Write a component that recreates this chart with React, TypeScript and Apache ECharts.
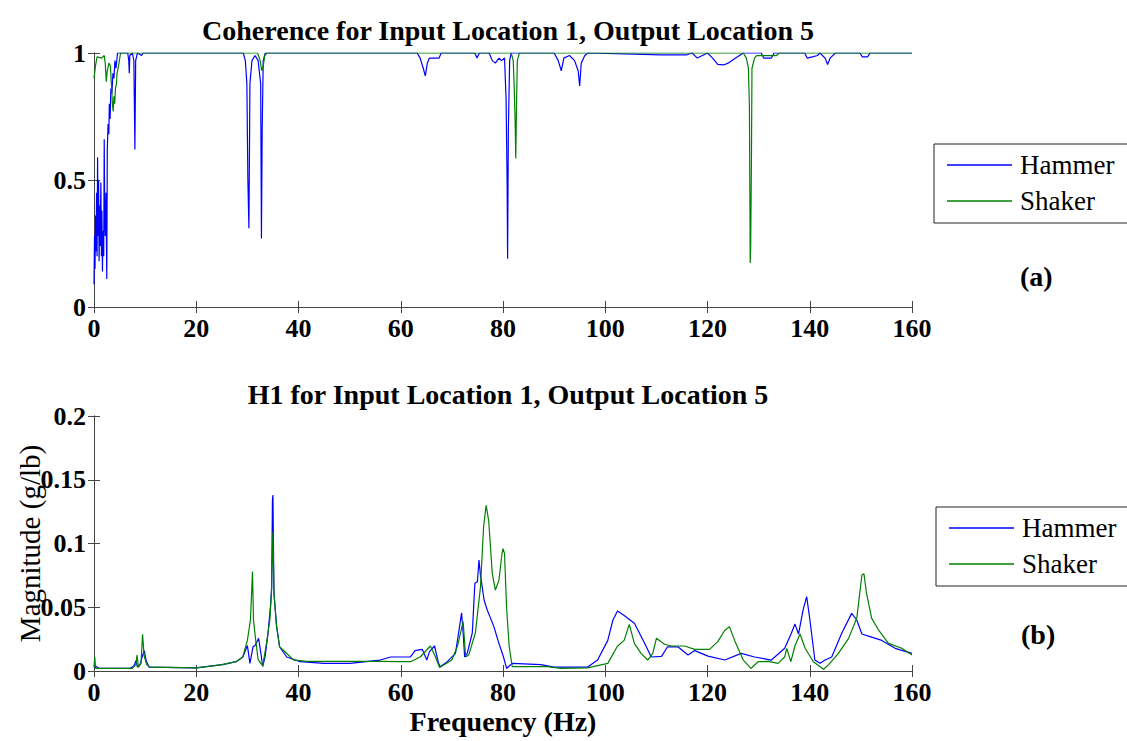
import React, { useEffect, useRef } from "react";
import * as echarts from "echarts";

const seriesNames = ["Hammer", "Shaker"];
const titleTop = "Coherence for Input Location 1, Output Location 5";
const titleBottom = "H1 for Input Location 1, Output Location 5";
const xTicks = [0, 20, 40, 60, 80, 100, 120, 140, 160];
const cohTicks = [0, 0.5, 1];
const magTicks = [0, 0.05, 0.1, 0.15, 0.2];

// Coherence, Hammer: [frequency Hz, coherence]
const hammerCoh: number[][] = [
  [0, 0.09], [0.1, 0.28], [0.2, 0.15], [0.3, 0.36], [0.4, 0.22], [0.5, 0.45], [0.6, 0.2], [0.7, 0.59],
  [0.8, 0.28], [0.9, 0.5], [1.0, 0.18], [1.1, 0.4], [1.2, 0.24], [1.35, 0.49], [1.45, 0.2], [1.55, 0.38],
  [1.65, 0.14], [1.75, 0.3], [1.9, 0.2], [2.0, 0.66], [2.1, 0.35], [2.2, 0.28], [2.35, 0.45], [2.5, 0.11],
  [2.6, 0.62], [2.75, 0.72], [2.9, 0.68], [3.0, 0.8], [3.15, 0.74], [3.3, 0.86], [3.5, 0.84], [3.7, 0.92],
  [3.9, 0.9], [4.1, 0.97], [4.3, 0.94], [4.6, 1], [6.6, 1], [6.8, 0.97], [6.9, 0.92], [7.0, 0.99],
  [7.5, 1], [7.8, 0.97], [8.0, 0.62], [8.15, 0.97], [8.5, 1], [9.3, 0.99], [9.6, 1],
  [29.2, 1], [29.6, 0.97], [29.9, 0.88], [30.1, 0.5], [30.3, 0.31], [30.5, 0.88], [30.9, 0.97], [31.5, 0.99],
  [32.1, 0.97], [32.6, 0.88], [32.75, 0.27], [32.9, 0.7], [33.1, 0.97], [33.5, 1],
  [63.2, 1], [63.8, 0.98], [64.4, 0.94], [64.8, 0.91], [65.2, 0.96], [65.6, 0.98], [67.5, 0.98], [67.9, 1],
  [74.5, 1], [74.9, 0.98], [75.4, 1], [77.3, 1], [77.9, 0.97], [78.5, 0.96], [79.2, 0.98], [79.7, 0.97],
  [80.3, 0.98], [80.6, 0.82], [80.8, 0.5], [80.9, 0.19], [81.05, 0.7], [81.3, 0.97], [81.6, 1],
  [90, 1], [90.8, 0.97], [91.4, 0.93], [91.9, 0.98], [93, 0.99], [94, 0.97], [94.7, 0.93], [95.0, 0.87],
  [95.3, 0.96], [96, 0.99], [96.6, 1], [111, 0.993], [116, 0.993], [117, 1], [118, 0.98], [119, 0.99],
  [120, 1], [121, 0.98], [122, 0.955], [123.2, 0.953], [124, 0.96], [125.5, 0.98], [127, 1], [130.5, 1],
  [131, 0.98], [132.5, 0.98], [133, 1], [139, 1], [139.5, 0.98], [140.5, 0.985], [141.5, 0.99], [142, 1],
  [143, 0.98], [143.5, 0.955], [144, 0.98], [145, 1], [149.8, 1], [150.3, 0.985], [151.3, 0.985], [151.8, 1],
  [160, 1],
];

// Coherence, Shaker: [frequency Hz, coherence]
const shakerCoh: number[][] = [
  [0, 0.9], [0.3, 0.95], [0.6, 0.985], [1.5, 0.98], [2.0, 0.99], [2.2, 0.96], [2.4, 0.887], [2.6, 0.93],
  [2.9, 0.96], [3.2, 0.95], [3.4, 0.88], [3.6, 0.8], [3.75, 0.77], [3.9, 0.83], [4.05, 0.8], [4.2, 0.86],
  [4.4, 0.88], [4.5, 0.92], [4.8, 0.95], [5.2, 1], [32.0, 1], [32.5, 0.97], [32.8, 0.93], [33.1, 0.95],
  [33.4, 0.99], [33.8, 1], [81.6, 1], [82.0, 0.97], [82.2, 0.86], [82.35, 0.75], [82.5, 0.585], [82.65, 0.8],
  [82.8, 0.97], [83.2, 1], [127, 1], [127.6, 0.98], [128.0, 0.94], [128.2, 0.79], [128.3, 0.4],
  [128.35, 0.173], [128.45, 0.237], [128.6, 0.6], [128.7, 0.94], [129.2, 0.98], [129.6, 0.99],
  [133.5, 0.99], [134, 1], [160, 1],
];

// H1 magnitude, Hammer: [frequency Hz, g/lb]
const hammerH1: number[][] = [
  [0, 0.003], [0.3, 0.004], [1, 0.002], [7, 0.002], [7.8, 0.004], [8.2, 0.008], [8.5, 0.003], [9.0, 0.005],
  [9.5, 0.012], [9.85, 0.016], [10.2, 0.008], [10.8, 0.003], [20, 0.0025], [22, 0.0034], [25.2, 0.005],
  [27.8, 0.0073], [29.1, 0.011], [29.8, 0.0178], [30.0, 0.02], [30.5, 0.006], [31.1, 0.019], [31.5, 0.02],
  [32.2, 0.0256], [32.6, 0.015], [33, 0.0035], [33.5, 0.012], [34, 0.028], [34.5, 0.05], [34.75, 0.065],
  [34.9, 0.134], [35.0, 0.138], [35.2, 0.061], [35.7, 0.036], [36.3, 0.019], [37.7, 0.011], [40.3, 0.0073],
  [45, 0.006], [50, 0.006], [56, 0.0086], [58, 0.011], [61.9, 0.011], [62.8, 0.016], [64.2, 0.017],
  [65.1, 0.0086], [65.6, 0.015], [66.6, 0.0196], [67.4, 0.006], [67.7, 0.0034], [69.1, 0.0073],
  [70.7, 0.0138], [71.5, 0.0348], [71.9, 0.0457], [72.2, 0.03], [72.5, 0.011], [73, 0.0138], [74, 0.03],
  [74.5, 0.0688], [75, 0.07], [75.3, 0.087], [75.6, 0.075], [76.3, 0.0557], [76.9, 0.048], [78.2, 0.035],
  [79.2, 0.0217], [80.1, 0.011], [80.7, 0.002], [81.8, 0.006], [87.4, 0.005], [90, 0.003], [96.5, 0.003],
  [98.5, 0.0086], [100.5, 0.024], [101.5, 0.04], [102.4, 0.047], [103.7, 0.0436], [105.7, 0.0374],
  [107.7, 0.0217], [109, 0.011], [111, 0.0115], [112.2, 0.019], [114.2, 0.019], [116.2, 0.0125],
  [117.5, 0.016], [120.1, 0.0117], [123.4, 0.0086], [126.6, 0.0138], [129.2, 0.011], [132.5, 0.0086],
  [135.1, 0.0178], [136.4, 0.0296], [137.1, 0.0368], [137.8, 0.029], [138.7, 0.048], [139.4, 0.0583],
  [140, 0.041], [141, 0.0086], [142, 0.006], [143, 0.0086], [144.3, 0.011], [146.3, 0.03], [148.2, 0.0452],
  [149.2, 0.04], [150.2, 0.029], [151.8, 0.027], [154.1, 0.024], [156.7, 0.0178], [160, 0.0138],
];

// H1 magnitude, Shaker: [frequency Hz, g/lb]
const shakerH1: number[][] = [
  [0, 0.003], [0.15, 0.011], [0.3, 0.002], [1, 0.002], [7.5, 0.002], [8.2, 0.005], [8.4, 0.0125],
  [8.7, 0.003], [9.2, 0.006], [9.5, 0.0288], [9.8, 0.012], [10.3, 0.005], [11, 0.003], [20, 0.0025],
  [22, 0.0034], [25, 0.005], [27.8, 0.0073], [29.1, 0.011], [30, 0.024], [30.6, 0.04], [31.0, 0.078],
  [31.2, 0.04], [31.6, 0.025], [32.1, 0.009], [33, 0.004], [33.7, 0.021], [34.4, 0.04], [34.7, 0.061],
  [35.0, 0.109], [35.2, 0.061], [35.7, 0.035], [36.3, 0.019], [39, 0.0088], [41.6, 0.0075], [56, 0.0075],
  [59.9, 0.0073], [61.9, 0.0073], [63.8, 0.011], [65.8, 0.0196], [66.8, 0.011], [67.6, 0.0028],
  [70, 0.0086], [71.1, 0.0196], [72.2, 0.0387], [72.7, 0.011], [73.3, 0.0125], [74.6, 0.03], [75.6, 0.066],
  [76.2, 0.113], [76.7, 0.13], [77.2, 0.118], [77.9, 0.0766], [78.5, 0.0635], [79.2, 0.071], [79.8, 0.092],
  [80, 0.096], [80.3, 0.092], [80.7, 0.05], [81.2, 0.0196], [81.8, 0.0034], [88.7, 0.0034], [91.3, 0.002],
  [96.5, 0.0025], [100.5, 0.006], [102.4, 0.0196], [103.7, 0.024], [104.7, 0.0366], [105.7, 0.0217],
  [107, 0.0138], [108.3, 0.0086], [109.3, 0.0138], [110, 0.0256], [111.6, 0.021], [112.9, 0.0196],
  [115.5, 0.0196], [117.5, 0.017], [120.4, 0.017], [122, 0.023], [123.4, 0.032], [124.3, 0.0348],
  [125.3, 0.024], [127, 0.0086], [128.5, 0.002], [129.9, 0.0073], [131.9, 0.0075], [133.8, 0.006],
  [135.1, 0.011], [135.5, 0.0178], [136.3, 0.0073], [137.1, 0.0196], [138.1, 0.029], [139.1, 0.0178],
  [140.7, 0.0073], [142.7, 0.0014], [143.7, 0.005], [145.6, 0.0138], [147.6, 0.0256], [149.2, 0.0415],
  [150.2, 0.0753], [150.6, 0.0763], [151.1, 0.061], [152.1, 0.0415], [153.4, 0.0325], [155.4, 0.0217],
  [158, 0.0178], [160, 0.0125],
];

const colors = ["#0000ff", "#008000"];
const SERIF = "'Liberation Serif', 'Times New Roman', serif";
const AXIS_COLOR = "#444";

export default function App() {
  const ref = useRef<HTMLDivElement>(null);
  useEffect(() => {
    if (!ref.current) return;
    const chart = echarts.init(ref.current, null, { renderer: "svg" });
    const grids = [
      { left: 94, top: 53, width: 818, height: 254, outerBoundsMode: "none", containLabel: false },
      { left: 94, top: 416, width: 818, height: 255, outerBoundsMode: "none", containLabel: false },
    ];
    const tickLabel = { fontFamily: SERIF, fontWeight: "bold" as const, fontSize: 26, color: "#000" };
    const lineAxis = { lineStyle: { color: AXIS_COLOR, width: 1 } };
    const xAxisBase = (gridIndex: number, position: string, showLabel: boolean) => ({
      type: "value",
      gridIndex,
      position,
      min: xTicks[0],
      max: xTicks[xTicks.length - 1],
      interval: xTicks[1] - xTicks[0],
      axisLine: { show: true, ...lineAxis },
      axisTick: { show: true, inside: true, length: 6, lineStyle: { color: AXIS_COLOR } },
      axisLabel: { show: showLabel, margin: 8, ...tickLabel },
      splitLine: { show: false },
    });
    const yAxisBase = (gridIndex: number, position: string, ticks: number[], showLabel: boolean) => ({
      type: "value",
      gridIndex,
      position,
      min: ticks[0],
      max: ticks[ticks.length - 1],
      interval: ticks[1] - ticks[0],
      axisLine: { show: true, ...lineAxis },
      axisTick: { show: true, inside: true, length: 6, lineStyle: { color: AXIS_COLOR } },
      axisLabel: { show: showLabel, margin: 8, ...tickLabel },
      splitLine: { show: false },
    });
    const legendBase = (left: number, top: number) => ({
      left,
      top,
      orient: "vertical",
      data: seriesNames.map((n) => ({ name: n, icon: "rect" })),
      borderColor: "#222",
      borderWidth: 1,
      padding: [6, 90, 7, 13],
      itemWidth: 65,
      itemHeight: 1.5,
      itemGap: 6,
      selectedMode: false,
      textStyle: { fontFamily: SERIF, fontSize: 27, color: "#000", lineHeight: 30, padding: [0, 0, 0, 3] },
    });
    const lineSeries = (name: string, data: number[][], idx: number, color: string) => ({
      name,
      type: "line",
      xAxisIndex: idx,
      yAxisIndex: idx,
      data,
      symbol: "none",
      showSymbol: false,
      lineStyle: { color, width: 1.2 },
      itemStyle: { color },
      emphasis: { disabled: true },
    });
    chart.setOption({
      animation: false,
      backgroundColor: "#fff",
      title: [
        {
          text: titleTop,
          left: 503,
          top: 11,
          textAlign: "center",
          textStyle: { fontFamily: SERIF, fontWeight: "bold", fontSize: 28, color: "#000" },
        },
        {
          text: titleBottom,
          left: 503,
          top: 375,
          textAlign: "center",
          textStyle: { fontFamily: SERIF, fontWeight: "bold", fontSize: 28, color: "#000" },
        },
      ],
      grid: grids,
      xAxis: [
        xAxisBase(0, "bottom", true),
        {
          ...xAxisBase(1, "bottom", true),
          name: "Frequency (Hz)",
          nameLocation: "middle",
          nameGap: 36,
          nameMoveOverlap: false,
          nameTextStyle: { fontFamily: SERIF, fontWeight: "bold", fontSize: 28, color: "#000" },
        },
        xAxisBase(0, "top", false),
        xAxisBase(1, "top", false),
      ],
      yAxis: [
        yAxisBase(0, "left", cohTicks, true),
        {
          ...yAxisBase(1, "left", magTicks, true),
          name: "Magnitude (g/lb)",
          nameLocation: "middle",
          nameGap: 50,
          nameMoveOverlap: false,
          nameTextStyle: { fontFamily: SERIF, fontSize: 29, color: "#000" },
        },
        yAxisBase(0, "right", cohTicks, false),
        yAxisBase(1, "right", magTicks, false),
      ],
      legend: [legendBase(934, 144), legendBase(936, 507)],
      series: [
        lineSeries(seriesNames[0], hammerCoh, 0, colors[0]),
        lineSeries(seriesNames[1], shakerCoh, 0, colors[1]),
        lineSeries(seriesNames[0], hammerH1, 1, colors[0]),
        lineSeries(seriesNames[1], shakerH1, 1, colors[1]),
      ],
      graphic: [
        {
          type: "text",
          left: 1020,
          top: 262,
          style: { text: "(a)", font: `bold 28px ${SERIF}`, fill: "#000" },
        },
        {
          type: "text",
          left: 1021,
          top: 620,
          style: { text: "(b)", font: `bold 28px ${SERIF}`, fill: "#000" },
        },
      ],
    });
    return () => chart.dispose();
  }, []);
  return (
    <div
      ref={ref}
      style={{ position: "absolute", left: 0, top: 0, width: 1127, height: 741, background: "#fff" }}
    />
  );
}
